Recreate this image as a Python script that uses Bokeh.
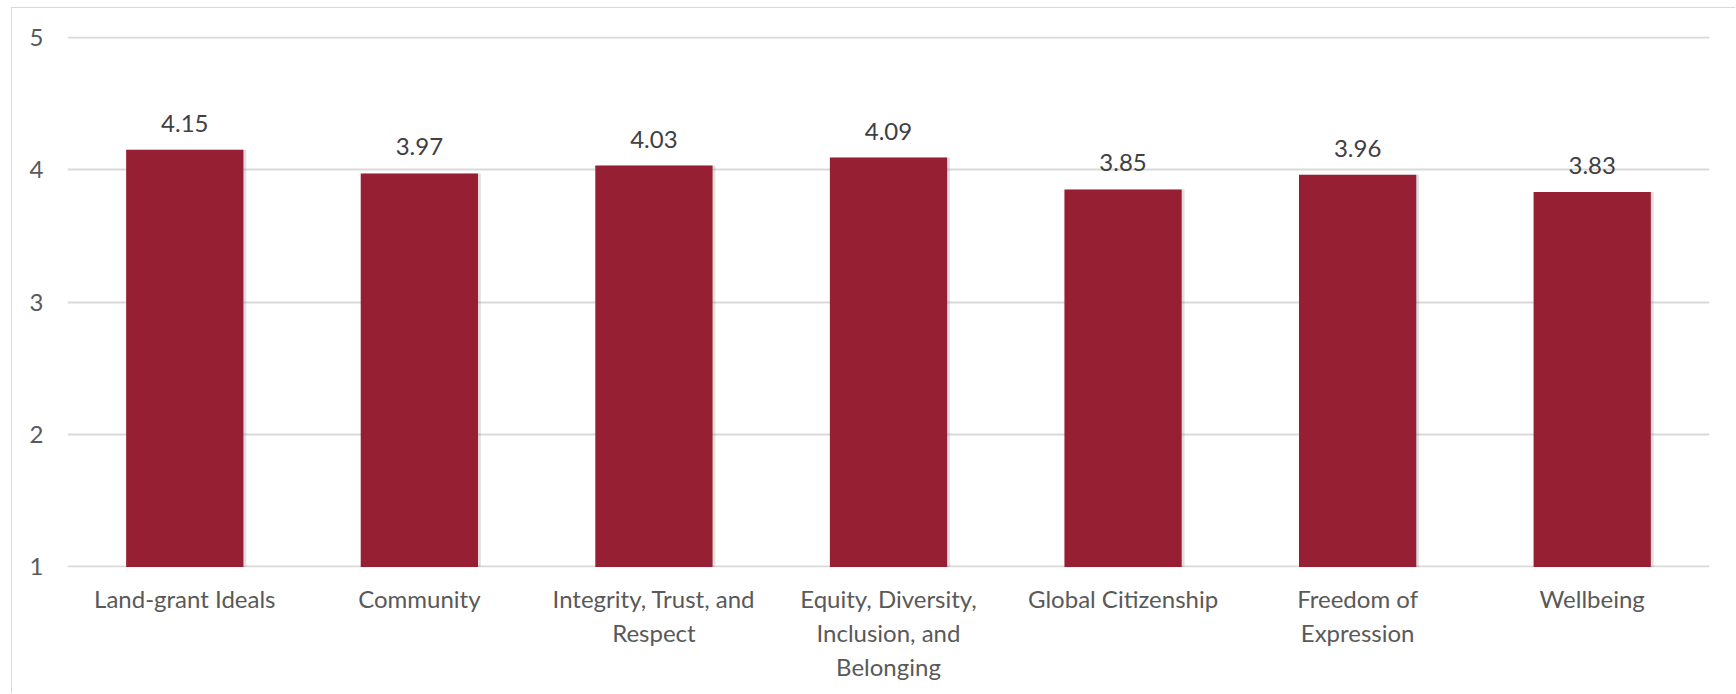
from bokeh.plotting import figure
from bokeh.models import (ColumnDataSource, FactorRange, Range1d, LabelSet,
                          CategoricalAxis, CustomJSTickFormatter)
from bokeh.core.properties import value
from bokeh.transform import dodge
from bokeh.embed import file_html
from bokeh.resources import INLINE

# Mean ratings per value
categories = [
    "Land-grant Ideals",
    "Community",
    "Integrity, Trust, and Respect",
    "Equity, Diversity, Inclusion, and Belonging",
    "Global Citizenship",
    "Freedom of Expression",
    "Wellbeing",
]
tick_labels = [
    ["Land-grant Ideals"],
    ["Community"],
    ["Integrity, Trust, and", "Respect"],
    ["Equity, Diversity,", "Inclusion, and", "Belonging"],
    ["Global Citizenship"],
    ["Freedom of", "Expression"],
    ["Wellbeing"],
]
scores = [4.15, 3.97, 4.03, 4.09, 3.85, 3.96, 3.83]
y_ticks = [1, 2, 3, 4, 5]

BAR = "#971F33"
FONT = "Lato"
AXIS_TEXT = "#595959"

source = ColumnDataSource(data=dict(
    cat=categories,
    score=scores,
    label=[f"{v:.2f}" for v in scores],
))

p = figure(
    x_range=FactorRange(*categories, range_padding=0),
    y_range=Range1d(y_ticks[0] - 0.004, y_ticks[-1] + 0.004),
    width=1724, height=686,
    output_backend="svg", toolbar_location=None,
    min_border_left=55, min_border_right=27,
    min_border_top=28, min_border_bottom=127,
    styles={"margin-left": "11px", "margin-top": "7px",
            "border-left": "1px solid #d9d9d9", "border-top": "1px solid #d9d9d9"},
)
p.outline_line_color = None
p.background_fill_color = "white"
p.border_fill_color = "white"

# soft drop shadow behind each bar
p.vbar(x=dodge("cat", 0.012, range=p.x_range), top="score", bottom=y_ticks[0], width=0.5,
       source=source, fill_color="#7f7f7f", fill_alpha=0.25, line_color=None)
p.vbar(x="cat", top="score", bottom=y_ticks[0], width=0.5, source=source,
       fill_color=BAR, line_color=None)

p.add_layout(LabelSet(x="cat", y="score", text="label", source=source,
                      text_align="center", text_baseline="alphabetic", y_offset=18,
                      text_font=value(FONT), text_font_size="24px", text_color="#404040"))

p.xgrid.grid_line_color = None
p.ygrid.grid_line_color = "#d9d9d9"
p.ygrid.grid_line_width = 2
p.ygrid.ticker = y_ticks

p.yaxis.ticker = y_ticks
p.yaxis.axis_line_color = None
p.yaxis.major_tick_line_color = None
p.yaxis.minor_tick_line_color = None
p.yaxis.major_label_standoff = 18
p.yaxis.major_label_text_font = FONT
p.yaxis.major_label_text_font_size = "24px"
p.yaxis.major_label_text_color = AXIS_TEXT


def style_x(axis, line_no, standoff):
    axis.axis_line_color = None
    axis.major_tick_line_color = None
    axis.major_tick_out = 0
    axis.major_tick_in = 0
    axis.major_label_standoff = standoff
    axis.major_label_text_font = FONT
    axis.major_label_text_font_size = "24px"
    axis.major_label_text_color = AXIS_TEXT
    lines = {c: (t[line_no] if line_no < len(t) else "")
             for c, t in zip(categories, tick_labels)}
    axis.formatter = CustomJSTickFormatter(
        args=dict(lines=lines),
        code="return lines[tick] !== undefined ? lines[tick] : '';",
    )


# wrapped category names: one stacked axis per text line
style_x(p.xaxis[0], 0, 16)
for n in (1, 2):
    extra = CategoricalAxis()
    style_x(extra, n, 2)
    p.add_layout(extra, "below")

open("out.html", "w").write(file_html(p, INLINE))
